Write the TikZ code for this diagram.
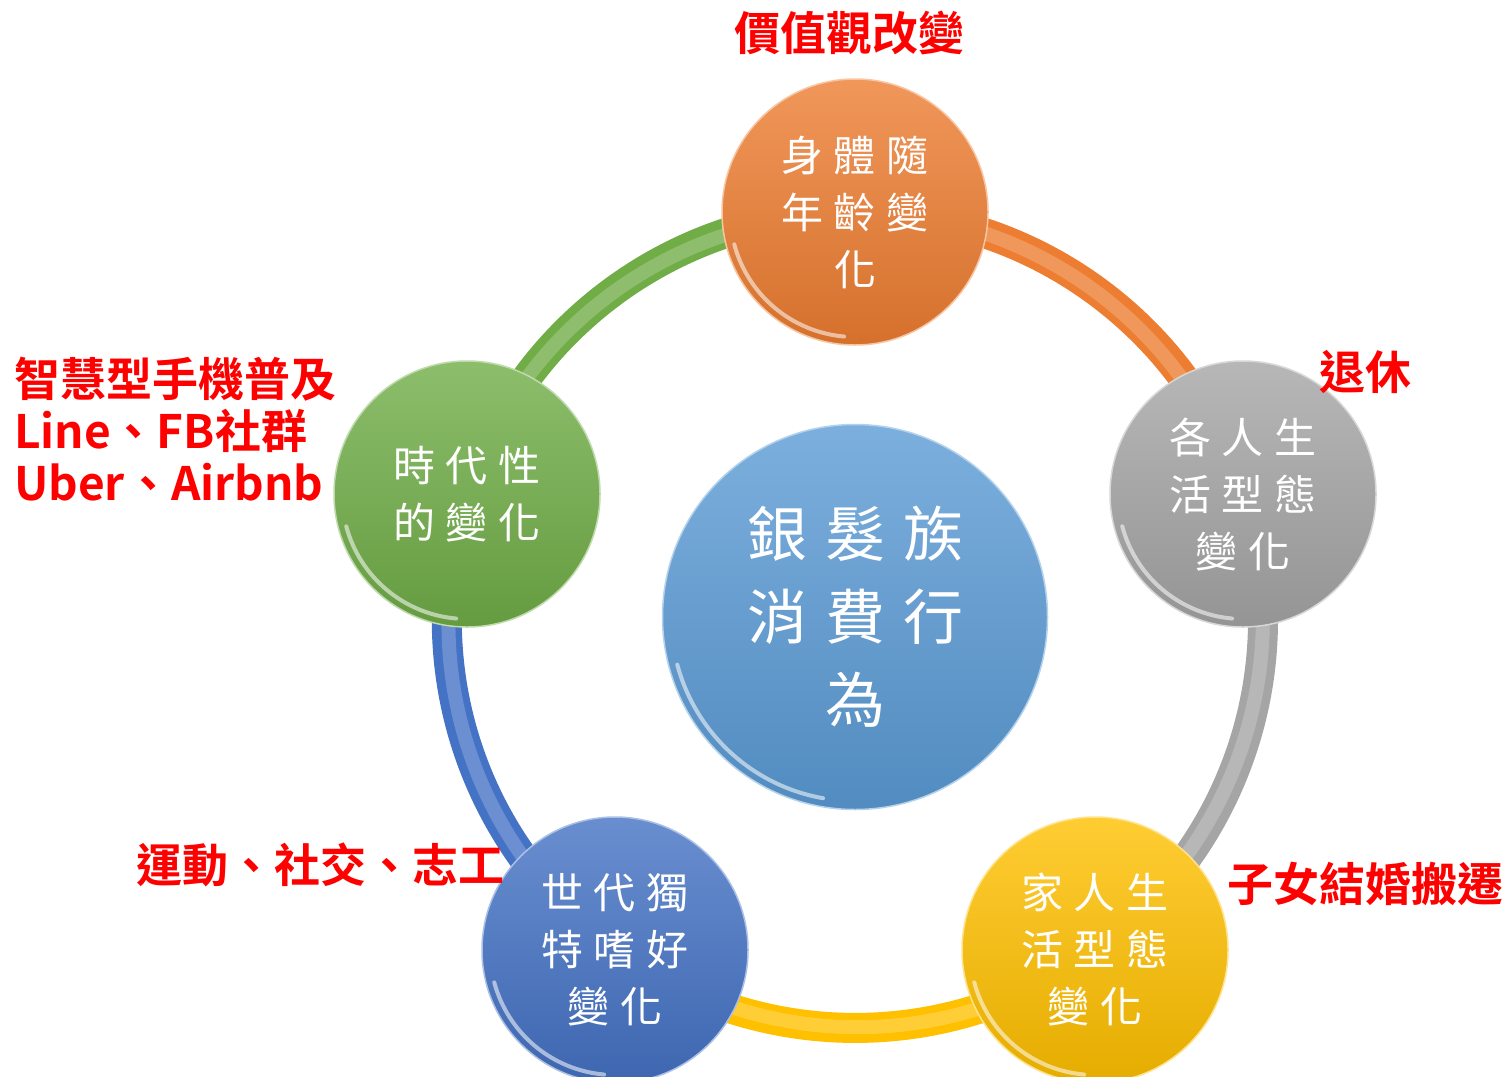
\documentclass[tikz,border=0pt]{standalone}
\usepackage{fontspec}
\newfontfamily\cjk{Noto Sans CJK TC}[LetterSpace=24]
\newfontfamily\cjkc{Noto Sans CJK TC}[LetterSpace=30]
\newfontfamily\cjkb{Noto Sans CJK TC Bold}
\usetikzlibrary{backgrounds,calc}
\definecolor{cOr}{HTML}{ED7D31}
\definecolor{cGy}{HTML}{A5A5A5}
\definecolor{cYe}{HTML}{FFC000}
\definecolor{cBl}{HTML}{4472C4}
\definecolor{cGr}{HTML}{70AD47}
\definecolor{cCe}{HTML}{5B9BD5}
\definecolor{cRed}{HTML}{FF0000}
\tikzset{
  ball/.style={circle, minimum size=266pt, inner sep=0pt,
    top color=#1!80!white, bottom color=#1!90!black,
    draw=#1!45!white, line width=1.5pt, text=white, align=center,
    font=\cjk\fontsize{42}{57}\selectfont},
  bigball/.style={ball=#1, minimum size=385pt,
    font=\cjkc\fontsize{60}{83}\selectfont},
  ring/.style={line width=30pt, draw=#1},
  ringhi/.style={line width=14pt, draw=#1!40!white, opacity=.35},
  gloss/.style={draw=white, opacity=.55, line width=4pt, line cap=round},
  lab/.style={text=cRed, inner sep=0pt, font=\cjkb\fontsize{46}{52}\selectfont},
}
\begin{document}
\begin{tikzpicture}[x=1pt,y=1pt]
\useasboundingbox (0,0) rectangle (1511,-1076);
\coordinate (C) at (855,-620);
% outer circles
\node[ball=cOr] (O) at (855,-212) {身體隨\\年齡變\\化};
\node[ball=cGy] (G) at (1243,-494) {各人生\\活型態\\變化};
\node[ball=cYe] (Y) at (1095,-950) {家人生\\活型態\\變化};
\node[ball=cBl] (B) at (615,-950) {世代獨\\特嗜好\\變化};
\node[ball=cGr] (Gr) at (467,-494) {時代性\\的變化};
% center
\node[bigball=cCe] (M) at (855,-617) {銀髮族\\消費行\\為};
% gloss rims
\foreach \n in {O,G,Y,B,Gr}{
  \draw[gloss] ($(\n.center)+(195:125pt)$) arc[start angle=195, end angle=265, radius=125pt];
}
\draw[gloss] ($(M.center)+(195:184pt)$) arc[start angle=195, end angle=260, radius=184pt];
% ring
\begin{scope}[on background layer]
\fill[white] (0,0) rectangle (1511,-1076);
\draw[ring=cOr] (O.center) arc[start angle=90, end angle=18, radius=408pt];
\draw[ringhi=cOr] (O.center) arc[start angle=90, end angle=18, radius=404pt];
\draw[ring=cGy] (G.center) arc[start angle=18, end angle=-54, radius=408pt];
\draw[ringhi=cGy] (G.center) arc[start angle=18, end angle=-54, radius=404pt];
\draw[ring=cYe] (Y.center) arc[start angle=-54, end angle=-126, radius=408pt];
\draw[ringhi=cYe] (Y.center) arc[start angle=-54, end angle=-126, radius=404pt];
\draw[ring=cBl] (B.center) arc[start angle=-126, end angle=-198, radius=408pt];
\draw[ringhi=cBl] (B.center) arc[start angle=-126, end angle=-198, radius=404pt];
\draw[ring=cGr] (Gr.center) arc[start angle=162, end angle=90, radius=408pt];
\draw[ringhi=cGr] (Gr.center) arc[start angle=162, end angle=90, radius=404pt];
\end{scope}
% red labels
\node[lab] (t1) at (849,-33) {價值觀改變};
\node[lab, anchor=west, align=left] (t2) at (14,-429) {智慧型手機普及\\Line、FB社群\\Uber、Airbnb};
\node[lab] (t3) at (1365,-372) {退休};
\node[lab] (t4) at (320,-865) {運動、社交、志工};
\node[lab] (t5) at (1365,-884) {子女結婚搬遷};
\end{tikzpicture}
\end{document}
